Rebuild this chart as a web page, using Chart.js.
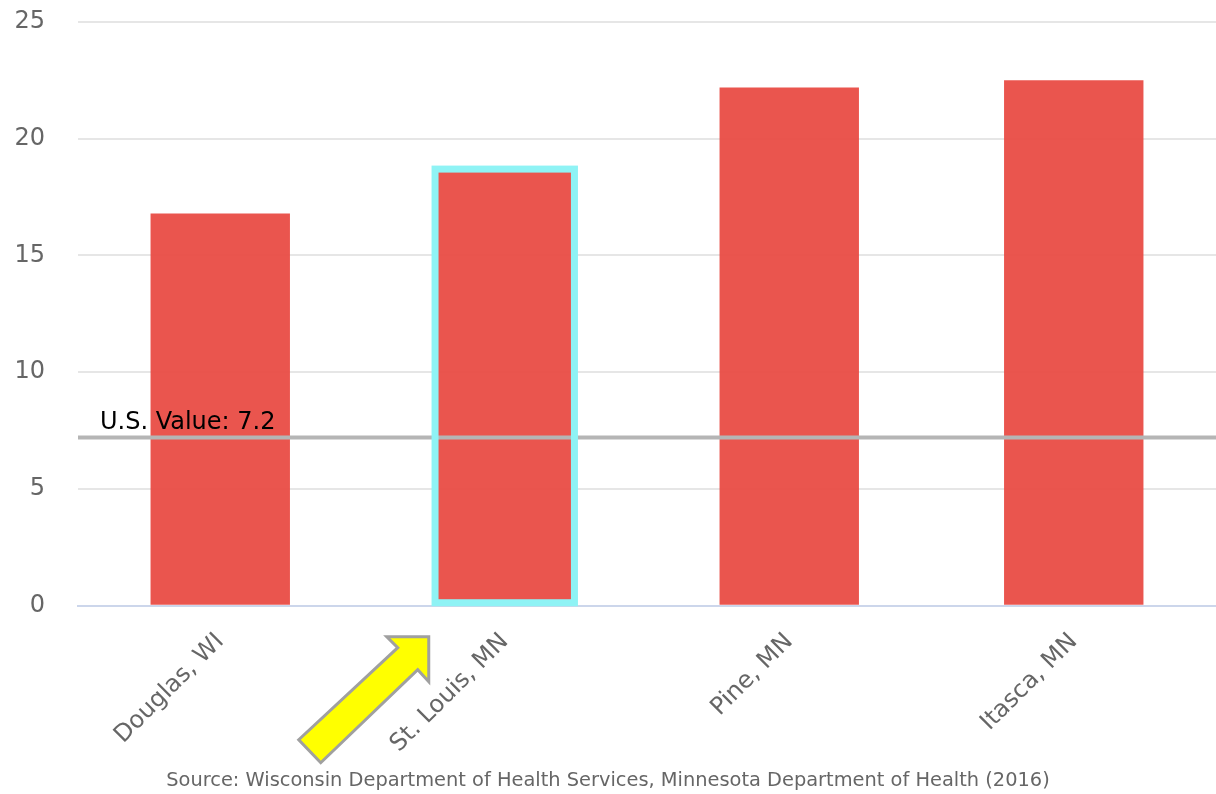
<!DOCTYPE html>
<html lang="en">
<head>
    <meta charset="UTF-8" />
    <title>County values</title>
    <style>
        body { margin: 0; background: #fff; }
        canvas { display: block; }
    </style>
</head>
<body>
    <canvas id="chart" width="1216" height="794"></canvas>

    <script src="https://cdn.jsdelivr.net/npm/chart.js"></script>
    <script>
        // data
        const counties = ['Douglas, WI', 'St. Louis, MN', 'Pine, MN', 'Itasca, MN'];
        const values = [16.8, 18.7, 22.2, 22.5];
        const usValue = 7.2;
        const highlightIndex = 1;
        const yTicks = [0, 5, 10, 15, 20, 25];
        const sourceText = 'Source: Wisconsin Department of Health Services, Minnesota Department of Health (2016)';

        const FONT = "'DejaVu Sans', sans-serif";

        // U.S. reference line + label
        const usLinePlugin = {
            id: 'usLine',
            afterDatasetsDraw(chart) {
                const { ctx, chartArea } = chart;
                const y = chart.scales.y.getPixelForValue(usValue);
                ctx.save();
                ctx.strokeStyle = '#b5b5b5';
                ctx.lineWidth = 4;
                ctx.beginPath();
                ctx.moveTo(chartArea.left, y);
                ctx.lineTo(chartArea.right, y);
                ctx.stroke();
                ctx.fillStyle = '#000';
                ctx.font = '24px ' + FONT;
                ctx.textBaseline = 'alphabetic';
                ctx.fillText('U.S. Value: ' + usValue, chartArea.left + 22, y - 9);
                ctx.restore();
            }
        };

        // cyan outline on the selected bar
        const highlightPlugin = {
            id: 'highlight',
            afterDatasetsDraw(chart) {
                const bar = chart.getDatasetMeta(0).data[highlightIndex];
                const p = bar.getProps(['x', 'y', 'base', 'width'], true);
                const { ctx } = chart;
                ctx.save();
                ctx.strokeStyle = '#8ff3f5';
                ctx.lineWidth = 7;
                ctx.strokeRect(p.x - p.width / 2, p.y, p.width, p.base - p.y - 2);
                ctx.restore();
            }
        };

        // yellow arrow pointing at the St. Louis label
        const arrowPlugin = {
            id: 'arrow',
            afterDraw(chart) {
                const { ctx, chartArea } = chart;
                const tx = chart.scales.x.getPixelForValue(highlightIndex) - 76;
                const ty = chartArea.bottom + 31;
                const pts = [
                    [0, 0], [0, 45], [-11, 33], [-108, 126],
                    [-130, 103], [-31, 11], [-42, 0]
                ];
                ctx.save();
                ctx.beginPath();
                pts.forEach(([dx, dy], i) => {
                    if (i === 0) ctx.moveTo(tx + dx, ty + dy);
                    else ctx.lineTo(tx + dx, ty + dy);
                });
                ctx.closePath();
                ctx.fillStyle = '#ffff00';
                ctx.fill();
                ctx.strokeStyle = '#a0a0a0';
                ctx.lineWidth = 3;
                ctx.lineJoin = 'miter';
                ctx.stroke();
                ctx.restore();
            }
        };

        const ctx = document.getElementById('chart').getContext('2d');
        const chart = new Chart(ctx, {
            type: 'bar',
            data: {
                labels: counties,
                datasets: [{
                    data: values,
                    backgroundColor: 'rgba(232, 72, 65, 0.93)',
                    borderWidth: 0,
                    barPercentage: 0.49,
                    categoryPercentage: 1.0
                }]
            },
            options: {
                responsive: false,
                animation: false,
                devicePixelRatio: 1,
                layout: { padding: { top: 22, right: 0, left: 0, bottom: 0 } },
                plugins: {
                    legend: { display: false },
                    tooltip: { enabled: false },
                    title: {
                        display: true,
                        text: sourceText,
                        position: 'bottom',
                        color: '#666',
                        font: { family: FONT, size: 19.4, weight: 'normal' },
                        padding: { top: 0, bottom: 1 }
                    }
                },
                scales: {
                    x: {
                        grid: { display: false },
                        border: { display: true, color: '#ccd6eb', width: 2 },
                        ticks: {
                            autoSkip: false,
                            minRotation: 45,
                            maxRotation: 45,
                            padding: 14,
                            color: '#666',
                            font: { family: FONT, size: 24 }
                        },
                        afterFit(scale) {
                            scale.height = 164;
                            scale.paddingTop = 0;
                        }
                    },
                    y: {
                        min: 0,
                        max: 25,
                        afterBuildTicks(scale) {
                            scale.ticks = yTicks.map(v => ({ value: v }));
                        },
                        grid: { color: '#e6e6e6', lineWidth: 2, drawTicks: false },
                        border: { display: false },
                        ticks: {
                            padding: 33,
                            color: '#666',
                            font: { family: FONT, size: 24 }
                        },
                        afterFit(scale) {
                            scale.width = 78;
                            scale.paddingTop = 0;
                            scale.paddingBottom = 0;
                        }
                    }
                }
            },
            plugins: [usLinePlugin, highlightPlugin, arrowPlugin]
        });
    </script>
</body>
</html>
